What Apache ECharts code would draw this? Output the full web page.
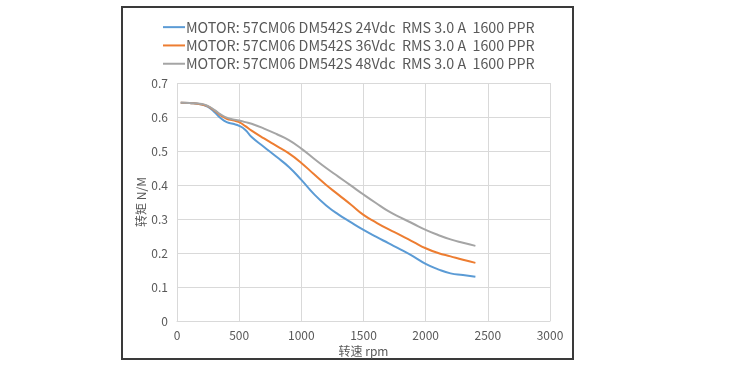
<!DOCTYPE html>
<html><head><meta charset="utf-8">
<script src="https://cdn.jsdelivr.net/npm/echarts@6/dist/echarts.min.js"></script>
<style>html,body{margin:0;padding:0;background:#fff}#c{width:750px;height:367px}</style>
</head><body><div id="c"></div>
<script>
const rpm = [30,100,200,250,300,350,400,450,500,550,600,700,800,900,1000,1100,1200,1300,1400,1500,1600,1700,1800,1900,2000,2100,2200,2300,2400];
const torque24 = [0.642,0.641,0.637,0.630,0.615,0.597,0.585,0.580,0.574,0.562,0.541,0.512,0.483,0.453,0.415,0.374,0.340,0.313,0.290,0.268,0.248,0.229,0.210,0.190,0.168,0.152,0.140,0.135,0.130];
const torque36 = [0.642,0.641,0.637,0.631,0.619,0.605,0.595,0.590,0.585,0.573,0.560,0.537,0.515,0.493,0.465,0.432,0.400,0.371,0.342,0.312,0.290,0.270,0.252,0.233,0.214,0.200,0.190,0.180,0.171];
const torque48 = [0.642,0.641,0.638,0.632,0.621,0.608,0.598,0.593,0.590,0.585,0.580,0.566,0.550,0.532,0.507,0.478,0.450,0.424,0.398,0.372,0.347,0.323,0.304,0.286,0.268,0.253,0.240,0.230,0.221];
const seriesNames = [
  'MOTOR: 57CM06 DM542S 24Vdc  RMS 3.0 A  1600 PPR',
  'MOTOR: 57CM06 DM542S 36Vdc  RMS 3.0 A  1600 PPR',
  'MOTOR: 57CM06 DM542S 48Vdc  RMS 3.0 A  1600 PPR'
];
const colors = ['#5b9bd5','#ed7d31','#a5a5a5'];
const xName = '转速 rpm';
const yName = '转矩 N/M';

const chart = echarts.init(document.getElementById('c'), null, {renderer:'canvas'});
const font = '"Noto Sans CJK SC", "Noto Sans", sans-serif';
const mk = (name, vals, color) => ({
  name, type:'line', smooth:true, symbol:'none',
  data: rpm.map((x,i)=>[x, vals[i]]),
  lineStyle:{color, width:2}, itemStyle:{color}
});
chart.setOption({
  animation:false,
  color: colors,
  textStyle:{fontFamily:font},
  graphic:[{type:'rect', shape:{x:122,y:7,width:451,height:352}, style:{fill:'none', stroke:'#3a3a3a', lineWidth:2}, z:-1}],
  legend:{
    orient:'vertical', left:158, top:15, itemGap:4, itemWidth:22, itemHeight:14,
    icon:'path://M0,6 L22,6 L22,8 L0,8 Z',
    textStyle:{color:'#595959', fontSize:14.3, lineHeight:14, fontFamily:font, padding:[0,0,0,-4]},
    data: seriesNames
  },
  grid:{left:177, right:200, top:83, bottom:46},
  xAxis:{
    type:'value', min:0, max:3000, interval:500,
    name:xName, nameLocation:'middle', nameGap:21,
    nameTextStyle:{color:'#595959', fontSize:12},
    axisLine:{show:true, lineStyle:{color:'#d9d9d9'}},
    axisTick:{show:false},
    axisLabel:{color:'#595959', fontSize:12, margin:8, formatter:v=>String(v)},
    splitLine:{show:true, lineStyle:{color:'#d9d9d9'}}
  },
  yAxis:{
    type:'value', min:0, max:0.7, interval:0.1,
    name:yName, nameLocation:'middle', nameGap:30, nameRotate:90,
    nameTextStyle:{color:'#595959', fontSize:12},
    axisLine:{show:false}, axisTick:{show:false},
    axisLabel:{color:'#595959', fontSize:12, margin:9},
    splitLine:{show:true, lineStyle:{color:'#d9d9d9'}}
  },
  series:[mk(seriesNames[0], torque24, colors[0]), mk(seriesNames[1], torque36, colors[1]), mk(seriesNames[2], torque48, colors[2])]
});
</script></body></html>
